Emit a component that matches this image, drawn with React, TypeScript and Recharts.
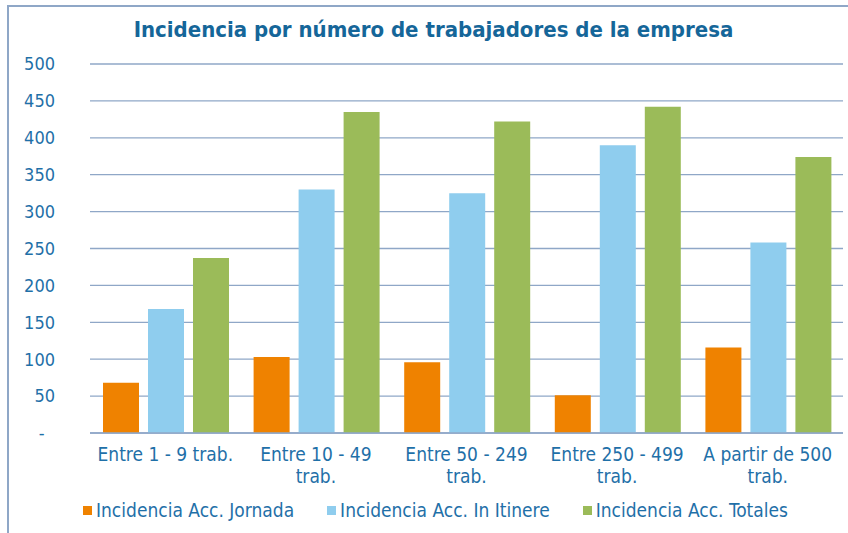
import { BarChart, Bar, XAxis, YAxis, CartesianGrid, Legend } from 'recharts';

const categories = [
  'Entre 1 - 9 trab.',
  'Entre 10 - 49 trab.',
  'Entre 50 - 249 trab.',
  'Entre 250 - 499 trab.',
  'A partir de 500 trab.',
];
// how each category label breaks under the axis
const categoryLines = [
  ['Entre 1 - 9 trab.'],
  ['Entre 10 - 49', 'trab.'],
  ['Entre 50 - 249', 'trab.'],
  ['Entre 250 - 499', 'trab.'],
  ['A partir de 500', 'trab.'],
];
const jornada = [68, 103, 96, 51, 116];
const itinere = [168, 330, 325, 390, 258];
const totales = [237, 435, 422, 442, 374];
const yTicks = [0, 50, 100, 150, 200, 250, 300, 350, 400, 450, 500];
const seriesNames = ['Incidencia Acc. Jornada', 'Incidencia Acc. In Itinere', 'Incidencia Acc. Totales'];

const chartData = categories.map((name, i) => ({
  name,
  jornada: jornada[i],
  itinere: itinere[i],
  totales: totales[i],
}));

const FONT = "'DejaVu Sans Condensed', 'DejaVu Sans', sans-serif";
const TEXT_COLOR = '#1F70A8';
const GRID_COLOR = '#8FA7C7';

const CategoryTick = ({ x, y, payload }: any) => {
  const lines = categoryLines[categories.indexOf(payload.value)] || [payload.value];
  return (
    <text x={x} y={y + 20} textAnchor="middle" fill={TEXT_COLOR} fontFamily={FONT} fontSize={19}>
      {lines.map((line: string, i: number) => (
        <tspan key={i} x={x} dy={i === 0 ? 0 : 22}>
          {line}
        </tspan>
      ))}
    </text>
  );
};

const renderLegend = ({ payload }: any) => {
  const items = seriesNames
    .map((n) => (payload || []).find((p: any) => p.value === n))
    .filter(Boolean);
  return (
    <div
      style={{
        display: 'flex',
        justifyContent: 'center',
        alignItems: 'center',
        fontFamily: FONT,
        fontSize: 19,
        color: TEXT_COLOR,
      }}
    >
      {items.map((p: any, i: number) => (
        <div
          key={p.value}
          style={{ display: 'flex', alignItems: 'center', marginRight: i < items.length - 1 ? 33 : 0, lineHeight: '22px' }}
        >
          <span style={{ display: 'inline-block', width: 9, height: 9, background: p.color, marginRight: 4 }} />
          <span>{p.value}</span>
        </div>
      ))}
    </div>
  );
};

export default function App() {
  return (
    <div style={{ position: 'fixed', left: 0, top: 0, width: 848, height: 533, background: '#fff', overflow: 'hidden' }}>
      <div
        style={{
          position: 'absolute',
          left: 7,
          top: 5,
          width: 860,
          height: 560,
          borderLeft: `2px solid ${GRID_COLOR}`,
          borderTop: `2px solid ${GRID_COLOR}`,
        }}
      />
      <div
        style={{
          position: 'absolute',
          left: 0,
          top: 16,
          width: 848,
          paddingLeft: 19,
          boxSizing: 'border-box',
          textAlign: 'center',
          fontFamily: FONT,
          fontWeight: 'bold',
          fontSize: 22,
          lineHeight: '28px',
          color: '#156699',
        }}
      >
        Incidencia por número de trabajadores de la empresa
      </div>
      <BarChart
        width={848}
        height={533}
        data={chartData}
        margin={{ top: 64, right: 5, left: 0, bottom: 40 }}
        barCategoryGap={13}
        barGap={9}
        style={{ position: 'absolute', left: 0, top: 0 }}
      >
        <CartesianGrid vertical={false} stroke={GRID_COLOR} strokeWidth={1.3} />
        <XAxis
          dataKey="name"
          height={60}
          tick={<CategoryTick />}
          tickLine={false}
          axisLine={{ stroke: GRID_COLOR, strokeWidth: 1.3 }}
          interval={0}
        />
        <YAxis
          width={90}
          domain={[0, 500]}
          ticks={yTicks}
          tickFormatter={(v: number) => (v === 0 ? '-\u00a0\u00a0' : String(v))}
          tickLine={false}
          axisLine={false}
          tickSize={6}
          tickMargin={29}
          tick={{ fill: TEXT_COLOR, fontSize: 18, fontFamily: FONT }}
        />
        <Legend
          verticalAlign="middle"
          align="center"
          layout="horizontal"
          content={renderLegend}
          wrapperStyle={{ left: 23, width: 825, top: 499 }}
        />
        <Bar dataKey="jornada" name={seriesNames[0]} fill="#EF8200" isAnimationActive={false} />
        <Bar dataKey="itinere" name={seriesNames[1]} fill="#8FCDEE" isAnimationActive={false} />
        <Bar dataKey="totales" name={seriesNames[2]} fill="#9BBB59" isAnimationActive={false} />
      </BarChart>
    </div>
  );
}
